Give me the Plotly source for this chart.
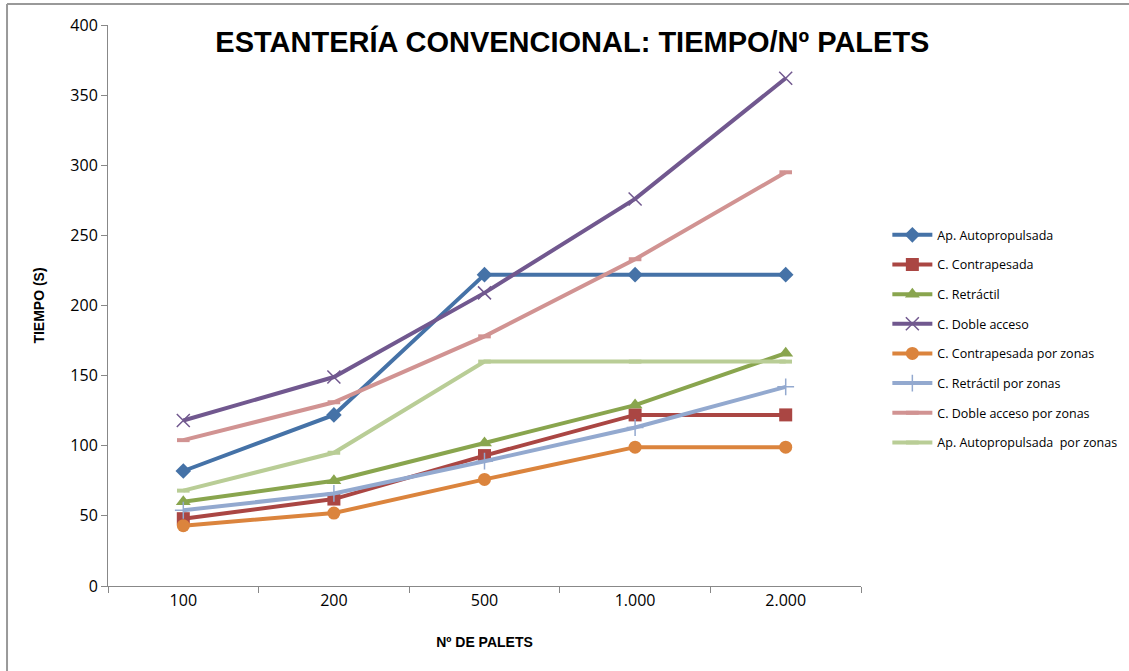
import plotly.graph_objects as go

categories = ["100", "200", "500", "1.000", "2.000"]

series_names = [
    "Ap. Autopropulsada",
    "C. Contrapesada",
    "C. Retráctil",
    "C. Doble acceso",
    "C. Contrapesada por zonas",
    "C. Retráctil por zonas",
    "C. Doble acceso por zonas",
    "Ap. Autopropulsada  por zonas",
]

ap_autopropulsada = [82, 122, 222, 222, 222]
c_contrapesada = [48, 62, 93, 122, 122]
c_retractil = [60, 75, 102, 129, 166]
c_doble_acceso = [118, 149, 209, 276, 362]
c_contrapesada_zonas = [43, 52, 76, 99, 99]
c_retractil_zonas = [54, 66, 89, 113, 142]
c_doble_acceso_zonas = [104, 131, 178, 233, 295]
ap_autopropulsada_zonas = [68, 95, 160, 160, 160]

series_values = [
    ap_autopropulsada, c_contrapesada, c_retractil, c_doble_acceso,
    c_contrapesada_zonas, c_retractil_zonas, c_doble_acceso_zonas,
    ap_autopropulsada_zonas,
]

colors = ["#4572A7", "#AA4643", "#89A54E", "#71588F",
          "#DB843D", "#93A9CF", "#D19392", "#B9CD96"]
symbols = ["diamond", "square", "triangle-up", "x-thin", "circle",
           "cross-thin", "line-ew", "line-ew"]
sizes = [12, 13, 13, 13, 13, 12, 9, 9]

fig = go.Figure()
for i, (name, vals, col, sym, sz) in enumerate(zip(series_names, series_values, colors, symbols, sizes)):
    thin = sym in ("x-thin", "cross-thin", "line-ew")
    fig.add_trace(go.Scatter(
        x=categories, y=vals, name=name, mode="lines+markers",
        legendgroup=f"g{i}",
        line=dict(color=col, width=4),
        marker=dict(symbol=sym, size=sz, color=col,
                    line=dict(color=col, width=(1.5 if sym != "line-ew" else 4) if thin else 0)),
    ))

fig.update_layout(
    width=1129, height=671,
    margin=dict(l=108, r=268, t=25, b=85, autoexpand=False),
    paper_bgcolor="white", plot_bgcolor="white",
    font=dict(family="Liberation Sans", color="#000000"),
    title=dict(text="<b>ESTANTERÍA CONVENCIONAL: TIEMPO/Nº PALETS</b>",
               x=0.507, xanchor="center", y=0.937, yanchor="middle",
               font=dict(size=29, family="Liberation Sans, Arial")),
    showlegend=True,
    legend=dict(x=1.035, y=0.652, xanchor="left", yanchor="top",
                font=dict(size=12.5, family="Open Sans, Liberation Sans"),
                tracegroupgap=10.4, itemwidth=40, bgcolor="rgba(0,0,0,0)"),
    xaxis=dict(
        type="category", showgrid=False, showline=True, linecolor="#888888", linewidth=1,
        ticks="outside", ticklen=6, tickcolor="#888888", tickson="boundaries",
        tickfont=dict(size=16, family="Open Sans, Liberation Sans"),
        range=[-0.5, 4.5], automargin=False,
        title=dict(text="<b>Nº DE PALETS</b>", font=dict(size=14, family="Liberation Sans"), standoff=26),
    ),
    yaxis=dict(
        range=[0, 400], dtick=50, showgrid=False, showline=True, linecolor="#888888", linewidth=1,
        ticks="outside", ticklen=6, tickcolor="#888888", zeroline=False, automargin=False,
        tickfont=dict(size=16, family="Open Sans, Liberation Sans"),
        title=dict(text="<b>TIEMPO (S)</b>", font=dict(size=14, family="Liberation Sans"), standoff=22),
    ),
    shapes=[
        dict(type="line", xref="paper", yref="paper", x0=-0.1341, x1=-0.1341, y0=-0.3, y1=1.0374,
             line=dict(color="#999999", width=2), layer="below"),
        dict(type="line", xref="paper", yref="paper", x0=-0.1341, x1=1.6, y0=1.0374, y1=1.0374,
             line=dict(color="#999999", width=2), layer="below"),
    ],
)

fig.write_html("out.html")
